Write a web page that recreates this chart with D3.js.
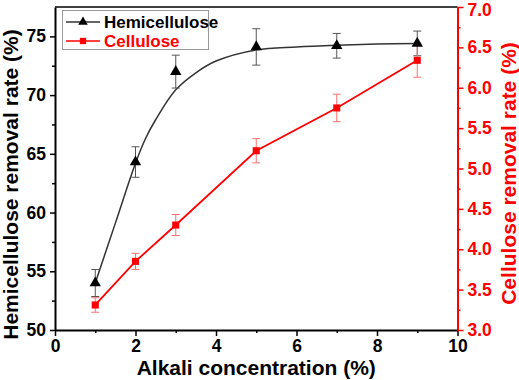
<!DOCTYPE html>
<html><head><meta charset="utf-8">
<script src="https://cdn.jsdelivr.net/npm/d3@7"></script>
<style>body{margin:0;background:#fff}svg{display:block}text{font-family:"Liberation Sans",Arial,sans-serif;font-weight:bold}</style>
</head><body>
<svg id="c" width="519" height="380"></svg>
<script>
const alkali = [1, 2, 3, 5, 7, 9];
const hemi = [54.0, 64.3, 72.0, 74.1, 74.2, 74.4];
const hemiErr = [1.15, 1.3, 1.4, 1.55, 1.05, 1.05];
const cell = [3.31, 3.85, 4.30, 5.22, 5.75, 6.34];
const cellErr = [0.09, 0.1, 0.13, 0.15, 0.17, 0.21];
const fitX = [1, 1.5, 2, 2.25, 2.5, 3, 3.5, 4, 5, 6, 7, 8, 9];
const fitY = [54.0, 59.1, 64.2, 66.3, 67.9, 70.45, 71.9, 72.9, 73.85, 74.1, 74.25, 74.35, 74.4];
const xTicks = [0, 2, 4, 6, 8, 10];
const yLTicks = [50, 55, 60, 65, 70, 75];
const yRTicks = [3.0, 3.5, 4.0, 4.5, 5.0, 5.5, 6.0, 6.5, 7.0];

const svg = d3.select("#c");
const L = 55, R = 457.5, T = 7, B = 330;
const x = d3.scaleLinear().domain([0, 10]).range([L, R]);
const yL = d3.scaleLinear().domain([50, 77.5]).range([B, T]);
const yR = d3.scaleLinear().domain([3, 7]).range([B, T]);
const RED = "#ff0000";

svg.append("line").attr("x1", L).attr("x2", R).attr("y1", T).attr("y2", T).attr("stroke", "#000").attr("stroke-width", 1.5);

function styleAxis(g, color, size) {
  g.selectAll("path").attr("stroke", color).attr("stroke-width", 2);
  g.selectAll("line").attr("stroke", color).attr("stroke-width", 1.5);
  g.selectAll("text").attr("fill", color).style("font-size", size + "px").style("font-family", "Liberation Sans, Arial, sans-serif").style("font-weight", "bold");
}
const xMinor = d3.range(1, 10, 2);
svg.append("g").attr("transform", `translate(0,${B})`).call(d3.axisBottom(x).tickValues(xMinor).tickSize(3).tickFormat("")).call(g => { g.select("path").remove(); g.selectAll("line").attr("stroke", "#000").attr("stroke-width", 1.5); });
const yLMinor = d3.range(52.5, 77.5, 5);
svg.append("g").attr("transform", `translate(${L},0)`).call(d3.axisLeft(yL).tickValues(yLMinor).tickSize(3).tickFormat("")).call(g => { g.select("path").remove(); g.selectAll("line").attr("stroke", "#000").attr("stroke-width", 1.5); });
const yRMinor = d3.range(3.25, 7, 0.5);
svg.append("g").attr("transform", `translate(${R},0)`).call(d3.axisRight(yR).tickValues(yRMinor).tickSize(3).tickFormat("")).call(g => { g.select("path").remove(); g.selectAll("line").attr("stroke", RED).attr("stroke-width", 1.5); });

svg.append("g").attr("transform", `translate(0,${B})`).call(d3.axisBottom(x).tickValues(xTicks).tickSize(6).tickSizeOuter(0).tickPadding(4).tickFormat(d3.format("d"))).call(g => styleAxis(g, "#000", 17.5));
svg.append("g").attr("transform", `translate(${L},0)`).call(d3.axisLeft(yL).tickValues(yLTicks).tickSize(5).tickSizeOuter(0).tickPadding(4).tickFormat(d3.format("d"))).call(g => styleAxis(g, "#000", 17.5));
svg.append("g").attr("transform", `translate(${R},0)`).call(d3.axisRight(yR).tickValues(yRTicks).tickSize(6).tickSizeOuter(0).tickPadding(4).tickFormat(d3.format(".1f"))).call(g => styleAxis(g, RED, 17.5))
  .call(g => g.selectAll(".tick text").filter(d => d === 7).attr("dy", "0.5em"));

svg.append("text").attr("x", (L + R) / 2).attr("y", 375).attr("text-anchor", "middle").style("font-size", "21px").attr("fill", "#000").text("Alkali concentration (%)");
svg.append("text").attr("transform", `translate(18,${(T + B) / 2 + 16}) rotate(-90)`).attr("text-anchor", "middle").style("font-size", "21px").attr("fill", "#000").text("Hemicellulose removal rate (%)");
svg.append("text").attr("transform", `translate(516,${(T + B) / 2 + 5}) rotate(-90)`).attr("text-anchor", "middle").style("font-size", "21px").attr("fill", RED).text("Cellulose removal rate (%)");

const fit = fitX.map((d, i) => [d, fitY[i]]);
svg.append("path").datum(fit).attr("fill", "none").attr("stroke", "#333").attr("stroke-width", 1.5)
  .attr("d", d3.line().x(d => x(d[0])).y(d => yL(d[1])).curve(d3.curveCatmullRom));

const cdata = alkali.map((d, i) => ({ x: d, y: cell[i], e: cellErr[i] }));
svg.append("path").datum(cdata).attr("fill", "none").attr("stroke", RED).attr("stroke-width", 1.8)
  .attr("d", d3.line().x(d => x(d.x)).y(d => yR(d.y)));

const hdata = alkali.map((d, i) => ({ x: d, y: hemi[i], e: hemiErr[i] }));
function errBars(data, ys, color) {
  const g = svg.append("g").attr("stroke", color).attr("stroke-width", 1);
  data.forEach(d => {
    const cx = x(d.x), y1 = ys(d.y - d.e), y2 = ys(d.y + d.e);
    g.append("line").attr("x1", cx).attr("x2", cx).attr("y1", y1).attr("y2", y2);
    g.append("line").attr("x1", cx - 4).attr("x2", cx + 4).attr("y1", y1).attr("y2", y1);
    g.append("line").attr("x1", cx - 4).attr("x2", cx + 4).attr("y1", y2).attr("y2", y2);
  });
}
errBars(hdata, yL, "#555");
errBars(cdata, yR, "#ff7070");

const tri = d3.symbol().type(d3.symbolTriangle).size(56);
const sq = d3.symbol().type(d3.symbolSquare).size(50);
svg.append("g").selectAll("path").data(hdata).join("path").attr("d", tri).attr("fill", "#000")
  .attr("transform", d => `translate(${x(d.x)},${yL(d.y)})`);
svg.append("g").selectAll("path").data(cdata).join("path").attr("d", sq).attr("fill", RED)
  .attr("transform", d => `translate(${x(d.x)},${yR(d.y)})`);

const lg = svg.append("g");
lg.append("rect").attr("x", 62.5).attr("y", 10.5).attr("width", 146).attr("height", 39).attr("fill", "#fff").attr("stroke", "#999").attr("stroke-width", 1);
const items = [{ name: "Hemicellulose", color: "#000", lc: "#333", sym: tri, y: 22 }, { name: "Cellulose", color: RED, lc: RED, sym: sq, y: 41 }];
items.forEach(it => {
  lg.append("line").attr("x1", 66).attr("x2", 100).attr("y1", it.y).attr("y2", it.y).attr("stroke", it.lc).attr("stroke-width", 1.5);
  lg.append("path").attr("d", it.sym.size(40)()).attr("fill", it.color).attr("transform", `translate(83,${it.y})`);
  lg.append("text").attr("x", 104).attr("y", it.y + 6).style("font-size", "17px").attr("fill", it.color).text(it.name);
});
</script>
</body></html>
